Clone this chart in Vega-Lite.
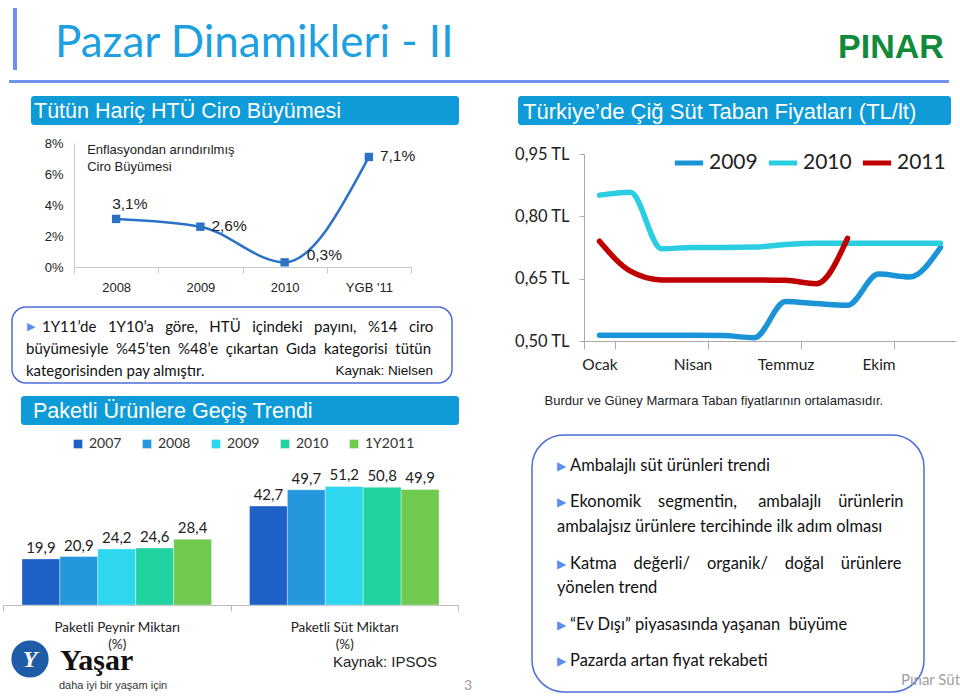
{
"$schema": "https://vega.github.io/schema/vega-lite/v6.json",
"background": "white",
"padding": {"left": 2, "top": 0, "right": 0, "bottom": 0},
"config": {"view": {"stroke": null}, "font": "Liberation Sans"},
"spacing": 10,
"resolve": {"scale": {"color": "independent"}, "legend": {"color": "independent"}},
"vconcat": [
{
 "width": 948, "height": 86,
 "data": {"values": [{"baslik": "Pazar Dinamikleri - II", "logo": "PINAR"}]},
 "layer": [
  {"mark": {"type": "rect", "color": "#6b8ef0"},
   "encoding": {
    "x": {"datum": 10, "type": "quantitative", "scale": {"domain": [0, 948], "nice": false, "zero": false}, "axis": null},
    "x2": {"datum": 14},
    "y": {"datum": 8, "type": "quantitative", "scale": {"domain": [0, 86], "nice": false, "zero": false, "reverse": true}, "axis": null},
    "y2": {"datum": 70}}},
  {"mark": {"type": "rect", "color": "#6f93ef"},
   "encoding": {
    "x": {"datum": 6, "type": "quantitative", "scale": {"domain": [0, 948], "nice": false, "zero": false}, "axis": null},
    "x2": {"datum": 946},
    "y": {"datum": 80, "type": "quantitative", "scale": {"domain": [0, 86], "nice": false, "zero": false, "reverse": true}, "axis": null},
    "y2": {"datum": 83}}},
  {"mark": {"type": "text", "align": "left", "baseline": "middle", "font": "Lato", "fontSize": 44, "color": "#1d9fe0"},
   "encoding": {
    "x": {"datum": 52, "type": "quantitative", "scale": {"domain": [0, 948], "nice": false, "zero": false}, "axis": null},
    "y": {"datum": 44, "type": "quantitative", "scale": {"domain": [0, 86], "nice": false, "zero": false, "reverse": true}, "axis": null},
    "text": {"field": "baslik"}}},
  {"mark": {"type": "text", "align": "center", "baseline": "middle", "font": "Liberation Sans", "fontWeight": "bold", "fontSize": 34, "color": "#128a3c"},
   "encoding": {
    "x": {"datum": 888, "type": "quantitative", "scale": {"domain": [0, 948], "nice": false, "zero": false}, "axis": null},
    "y": {"datum": 48, "type": "quantitative", "scale": {"domain": [0, 86], "nice": false, "zero": false, "reverse": true}, "axis": null},
    "text": {"field": "logo"}}}
 ]
},
{"spacing": 40,
 "resolve": {"scale": {"color": "independent"}, "legend": {"color": "independent"}},
 "hconcat": [
 {"spacing": 12,
  "resolve": {"scale": {"color": "independent"}, "legend": {"color": "independent"}},
  "vconcat": [
  {"spacing": 0, "hconcat": [
   {"width": 28, "height": 1, "data": {"values": []}, "mark": "point"},
   {
    "width": 428, "height": 29,
    "view": {"fill": "#0e9bd8", "stroke": null, "cornerRadius": 3},
    "data": {"values": [{"baslik": "Tütün Hariç HTÜ Ciro Büyümesi"}]},
    "mark": {"type": "text", "align": "left", "baseline": "middle", "dx": 3, "dy": 1, "font": "Liberation Sans", "fontSize": 21.5, "color": "white"},
    "encoding": {
     "x": {"datum": 0, "type": "quantitative", "scale": {"domain": [0, 1], "nice": false}, "axis": null},
     "y": {"datum": 0.5, "type": "quantitative", "scale": {"domain": [0, 1], "nice": false}, "axis": null},
     "text": {"field": "baslik"}}
   }
  ]},
  {"spacing": 0, "hconcat": [
   {"width": 38, "height": 1, "data": {"values": []}, "mark": "point"},
   {
    "width": 337, "height": 124,
    "data": {"values": [
     {"yil": "2008", "buyume": 3.1, "etiket": "3,1%"},
     {"yil": "2009", "buyume": 2.6, "etiket": "2,6%"},
     {"yil": "2010", "buyume": 0.3, "etiket": "0,3%"},
     {"yil": "YGB '11", "buyume": 7.1, "etiket": "7,1%"}
    ]},
    "encoding": {
     "x": {"field": "yil", "type": "ordinal", "sort": null, "scale": {"type": "band", "paddingInner": 0, "paddingOuter": 0}, "axis": {"title": null, "tickBand": "extent", "labelAngle": 0, "labelFont": "Liberation Sans", "labelFontSize": 13, "labelColor": "#222", "labelPadding": 8, "tickSize": 6, "tickColor": "#c8c8c8", "domainColor": "#c8c8c8"}},
     "y": {"field": "buyume", "type": "quantitative", "scale": {"domain": [0, 8], "nice": false}, "axis": {"title": null, "values": [0, 2, 4, 6, 8], "labelExpr": "datum.value + '%'", "grid": false, "ticks": false, "domainColor": "#c8c8c8", "labelFont": "Liberation Sans", "labelFontSize": 13, "labelColor": "#222", "labelPadding": 11, "minExtent": 33, "maxExtent": 33}}
    },
    "layer": [
     {"mark": {"type": "line", "interpolate": "monotone", "color": "#2a72c6", "strokeWidth": 2.5}},
     {"mark": {"type": "point", "shape": "square", "filled": true, "size": 70, "color": "#2a72c6", "opacity": 1}},
     {"transform": [{"filter": "datum.yil == '2008'"}],
      "mark": {"type": "text", "align": "left", "baseline": "middle", "dx": -4, "dy": -15, "font": "Liberation Sans", "fontSize": 15.5, "color": "#222"},
      "encoding": {"text": {"field": "etiket"}}},
     {"transform": [{"filter": "datum.yil == '2009' || datum.yil == \"YGB '11\""}],
      "mark": {"type": "text", "align": "left", "baseline": "middle", "dx": 11, "dy": -1, "font": "Liberation Sans", "fontSize": 15.5, "color": "#222"},
      "encoding": {"text": {"field": "etiket"}}},
     {"transform": [{"filter": "datum.yil == '2010'"}],
      "mark": {"type": "text", "align": "left", "baseline": "middle", "dx": 22, "dy": -7, "font": "Liberation Sans", "fontSize": 15.5, "color": "#222"},
      "encoding": {"text": {"field": "etiket"}}},
     {"transform": [{"filter": "datum.yil == '2008'"}],
      "mark": {"type": "text", "align": "left", "baseline": "top", "dx": -29, "font": "Liberation Sans", "fontSize": 13, "lineHeight": 17, "color": "#222", "lineBreak": "|", "text": "Enflasyondan arındırılmış|Ciro Büyümesi"},
      "encoding": {"y": {"datum": 7.95}}}
    ]
   }
  ]},
  {"spacing": 0, "hconcat": [
   {"width": 8, "height": 1, "data": {"values": []}, "mark": "point"},
   {
    "width": 440, "height": 76,
    "view": {"stroke": "#4c6fd6", "strokeWidth": 1.5, "cornerRadius": 14, "fill": "white"},
    "data": {"values": [
     {"satir": "1", "madde": true, "metin": "1Y11’de \u00a0\u00a01Y10’a \u00a0\u00a0göre, \u00a0\u00a0HTÜ \u00a0\u00a0içindeki \u00a0\u00a0payını, \u00a0\u00a0%14 \u00a0\u00a0ciro"},
     {"satir": "2", "madde": false, "metin": "büyümesiyle \u00a0%45’ten \u00a0%48’e \u00a0çıkartan \u00a0Gıda \u00a0kategorisi \u00a0tütün"},
     {"satir": "3", "madde": false, "metin": "kategorisinden pay almıştır."}
    ]},
    "encoding": {
     "x": {"datum": 0, "type": "quantitative", "scale": {"domain": [0, 1], "nice": false}, "axis": null},
     "y": {"field": "satir", "type": "ordinal", "scale": {"type": "point", "domain": ["1", "2", "3"], "padding": 0.69}, "axis": null}
    },
    "layer": [
     {"transform": [{"filter": "datum.madde"}], "mark": {"type": "text", "text": "▶", "align": "left", "baseline": "middle", "dx": 15, "dy": 4, "font": "DejaVu Sans", "fontSize": 11, "color": "#5a8ef2"}},
     {"transform": [{"filter": "datum.madde"}], "mark": {"type": "text", "align": "left", "baseline": "middle", "dx": 30, "dy": 4, "font": "Lato", "fontSize": 15, "color": "#111"}, "encoding": {"text": {"field": "metin"}}},
     {"transform": [{"filter": "!datum.madde"}], "mark": {"type": "text", "align": "left", "baseline": "middle", "dx": 14, "dy": 4, "font": "Lato", "fontSize": 15, "color": "#111"}, "encoding": {"text": {"field": "metin"}}},
     {"transform": [{"filter": "datum.satir == '3'"}], "mark": {"type": "text", "align": "right", "baseline": "middle", "dx": -19, "dy": 4, "font": "Liberation Sans", "fontSize": 13.5, "color": "#111"},
      "encoding": {"x": {"datum": 1, "type": "quantitative", "scale": {"domain": [0, 1], "nice": false}, "axis": null}, "text": {"value": "Kaynak: Nielsen"}}}
    ]
   }
  ]},
  {"spacing": 0, "hconcat": [
   {"width": 18, "height": 1, "data": {"values": []}, "mark": "point"},
   {
    "width": 438, "height": 29,
    "view": {"fill": "#0e9bd8", "stroke": null, "cornerRadius": 3},
    "data": {"values": [{"baslik": "Paketli Ürünlere Geçiş Trendi"}]},
    "mark": {"type": "text", "align": "left", "baseline": "middle", "dx": 12, "dy": 1, "font": "Liberation Sans", "fontSize": 21.5, "color": "white"},
    "encoding": {
     "x": {"datum": 0, "type": "quantitative", "scale": {"domain": [0, 1], "nice": false}, "axis": null},
     "y": {"datum": 0.5, "type": "quantitative", "scale": {"domain": [0, 1], "nice": false}, "axis": null},
     "text": {"field": "baslik"}}
   }
  ]},
  {
   "width": 455, "height": 139,
   "layer": [
    {
     "data": {"values": [
      {"urun": "Paketli Peynir Miktarı|(%)", "yil": "2007", "pay": 19.9, "etiket": "19,9"},
      {"urun": "Paketli Peynir Miktarı|(%)", "yil": "2008", "pay": 20.9, "etiket": "20,9"},
      {"urun": "Paketli Peynir Miktarı|(%)", "yil": "2009", "pay": 24.2, "etiket": "24,2"},
      {"urun": "Paketli Peynir Miktarı|(%)", "yil": "2010", "pay": 24.6, "etiket": "24,6"},
      {"urun": "Paketli Peynir Miktarı|(%)", "yil": "1Y2011", "pay": 28.4, "etiket": "28,4"},
      {"urun": "Paketli Süt Miktarı|(%)", "yil": "2007", "pay": 42.7, "etiket": "42,7"},
      {"urun": "Paketli Süt Miktarı|(%)", "yil": "2008", "pay": 49.7, "etiket": "49,7"},
      {"urun": "Paketli Süt Miktarı|(%)", "yil": "2009", "pay": 51.2, "etiket": "51,2"},
      {"urun": "Paketli Süt Miktarı|(%)", "yil": "2010", "pay": 50.8, "etiket": "50,8"},
      {"urun": "Paketli Süt Miktarı|(%)", "yil": "1Y2011", "pay": 49.9, "etiket": "49,9"}
     ]},
     "encoding": {
      "x": {"field": "urun", "type": "nominal", "sort": null, "scale": {"paddingInner": 0, "paddingOuter": 0}, "axis": {"title": null, "labelExpr": "split(datum.label, '|')", "labelAngle": 0, "tickBand": "extent", "tickSize": 6, "tickColor": "#bbbbbb", "domainColor": "#bbbbbb", "labelFont": "Lato", "labelFontSize": 13.5, "labelColor": "#222", "labelPadding": 9, "labelLineHeight": 17}},
      "xOffset": {"field": "yil", "type": "nominal", "sort": null, "scale": {"paddingInner": 0, "paddingOuter": 0.5}},
      "y": {"field": "pay", "type": "quantitative", "scale": {"domain": [0, 60], "nice": false}, "axis": null}
     },
     "layer": [
      {"mark": {"type": "bar", "stroke": "#ffffff", "strokeWidth": 0.6, "strokeOpacity": 0.6},
       "encoding": {"color": {"field": "yil", "type": "nominal", "sort": null,
        "scale": {"domain": ["2007", "2008", "2009", "2010", "1Y2011"], "range": ["#1d60c6", "#2497dd", "#2fd6ef", "#1fd2a0", "#6fca4f"]},
        "legend": {"orient": "none", "legendX": 68, "legendY": -29, "direction": "horizontal", "title": null, "symbolType": "square", "symbolSize": 75, "symbolStrokeWidth": 0, "labelFont": "Lato", "labelFontSize": 14, "labelColor": "#333", "columnPadding": 18, "labelOffset": 4}}}},
      {"mark": {"type": "text", "baseline": "bottom", "dy": -3, "font": "Lato", "fontSize": 15, "color": "#222"}, "encoding": {"text": {"field": "etiket"}}}
     ]
    },
    {
     "data": {"values": [{"kaynak": "Kaynak: IPSOS", "marka": "Yaşar", "slogan": "daha iyi bir yaşam için", "sayfa": "3"}]},
     "layer": [
      {"mark": {"type": "point", "shape": "circle", "filled": true, "size": 1500, "color": "#1f5ca8", "opacity": 1, "stroke": "#ffffff", "strokeWidth": 1.5},
       "encoding": {"x": {"datum": 27, "type": "quantitative", "scale": {"domain": [0, 455], "nice": false, "zero": false}, "axis": null},
                    "y": {"datum": 193, "type": "quantitative", "scale": {"domain": [0, 139], "nice": false, "zero": false, "reverse": true}, "axis": null}}},
      {"mark": {"type": "text", "align": "center", "baseline": "middle", "font": "Liberation Serif", "fontWeight": "bold", "fontStyle": "italic", "fontSize": 24, "color": "white"},
       "encoding": {"x": {"datum": 27, "type": "quantitative", "scale": {"domain": [0, 455], "nice": false, "zero": false}, "axis": null},
                    "y": {"datum": 194, "type": "quantitative", "scale": {"domain": [0, 139], "nice": false, "zero": false, "reverse": true}, "axis": null},
                    "text": {"value": "Y"}}},
      {"mark": {"type": "text", "align": "left", "baseline": "middle", "font": "Liberation Serif", "fontWeight": "bold", "fontSize": 30, "color": "#111"},
       "encoding": {"x": {"datum": 57, "type": "quantitative", "scale": {"domain": [0, 455], "nice": false, "zero": false}, "axis": null},
                    "y": {"datum": 195, "type": "quantitative", "scale": {"domain": [0, 139], "nice": false, "zero": false, "reverse": true}, "axis": null},
                    "text": {"field": "marka"}}},
      {"mark": {"type": "text", "align": "left", "baseline": "middle", "font": "Liberation Sans", "fontSize": 11, "color": "#333"},
       "encoding": {"x": {"datum": 56, "type": "quantitative", "scale": {"domain": [0, 455], "nice": false, "zero": false}, "axis": null},
                    "y": {"datum": 220, "type": "quantitative", "scale": {"domain": [0, 139], "nice": false, "zero": false, "reverse": true}, "axis": null},
                    "text": {"field": "slogan"}}},
      {"mark": {"type": "text", "align": "center", "baseline": "middle", "font": "Liberation Sans", "fontSize": 15, "color": "#222"},
       "encoding": {"x": {"datum": 382, "type": "quantitative", "scale": {"domain": [0, 455], "nice": false, "zero": false}, "axis": null},
                    "y": {"datum": 196, "type": "quantitative", "scale": {"domain": [0, 139], "nice": false, "zero": false, "reverse": true}, "axis": null},
                    "text": {"field": "kaynak"}}},
      {"mark": {"type": "text", "align": "center", "baseline": "middle", "font": "Lato", "fontSize": 14, "color": "#999"},
       "encoding": {"x": {"datum": 465, "type": "quantitative", "scale": {"domain": [0, 455], "nice": false, "zero": false}, "axis": null},
                    "y": {"datum": 220, "type": "quantitative", "scale": {"domain": [0, 139], "nice": false, "zero": false, "reverse": true}, "axis": null},
                    "text": {"field": "sayfa"}}}
     ]
    }
   ],
   "resolve": {"scale": {"x": "independent", "y": "independent"}}
  }
 ]},
 {"spacing": 12,
  "resolve": {"scale": {"color": "independent"}, "legend": {"color": "independent"}},
  "vconcat": [
  {"spacing": 0, "hconcat": [
   {"width": 5, "height": 1, "data": {"values": []}, "mark": "point"},
   {
    "width": 433, "height": 29,
    "view": {"fill": "#0e9bd8", "stroke": null, "cornerRadius": 3},
    "data": {"values": [{"baslik": "Türkiye’de Çiğ Süt Taban Fiyatları (TL/lt)"}]},
    "mark": {"type": "text", "align": "left", "baseline": "middle", "dx": 5, "dy": 1, "font": "Liberation Sans", "fontSize": 22, "color": "white"},
    "encoding": {
     "x": {"datum": 0, "type": "quantitative", "scale": {"domain": [0, 1], "nice": false}, "axis": {"orient": "bottom", "title": null, "labels": false, "ticks": false, "domain": false, "grid": false, "minExtent": 9, "maxExtent": 9}},
     "y": {"datum": 0.5, "type": "quantitative", "scale": {"domain": [0, 1], "nice": false}, "axis": null},
     "text": {"field": "baslik"}}
   }
  ]},
  {"spacing": 0,
   "resolve": {"scale": {"color": "independent"}, "legend": {"color": "independent"}},
   "hconcat": [
   {"width": 1, "height": 1, "data": {"values": []}, "mark": "point"},
   {
    "width": 372, "height": 187,
    "data": {"values": [
     {"ay": "Ocak", "yil": "2009", "fiyat": 0.514}, {"ay": "Şubat", "yil": "2009", "fiyat": 0.514}, {"ay": "Mart", "yil": "2009", "fiyat": 0.514},
     {"ay": "Nisan", "yil": "2009", "fiyat": 0.514}, {"ay": "Mayıs", "yil": "2009", "fiyat": 0.513}, {"ay": "Haziran", "yil": "2009", "fiyat": 0.508},
     {"ay": "Temmuz", "yil": "2009", "fiyat": 0.595}, {"ay": "Ağustos", "yil": "2009", "fiyat": 0.590}, {"ay": "Eylül", "yil": "2009", "fiyat": 0.586},
     {"ay": "Ekim", "yil": "2009", "fiyat": 0.661}, {"ay": "Kasım", "yil": "2009", "fiyat": 0.654}, {"ay": "Aralık", "yil": "2009", "fiyat": 0.725},
     {"ay": "Ocak", "yil": "2010", "fiyat": 0.851}, {"ay": "Şubat", "yil": "2010", "fiyat": 0.858}, {"ay": "Mart", "yil": "2010", "fiyat": 0.722},
     {"ay": "Nisan", "yil": "2010", "fiyat": 0.725}, {"ay": "Mayıs", "yil": "2010", "fiyat": 0.725}, {"ay": "Haziran", "yil": "2010", "fiyat": 0.726},
     {"ay": "Temmuz", "yil": "2010", "fiyat": 0.732}, {"ay": "Ağustos", "yil": "2010", "fiyat": 0.735}, {"ay": "Eylül", "yil": "2010", "fiyat": 0.735},
     {"ay": "Ekim", "yil": "2010", "fiyat": 0.735}, {"ay": "Kasım", "yil": "2010", "fiyat": 0.735}, {"ay": "Aralık", "yil": "2010", "fiyat": 0.735},
     {"ay": "Ocak", "yil": "2011", "fiyat": 0.740}, {"ay": "Şubat", "yil": "2011", "fiyat": 0.668}, {"ay": "Mart", "yil": "2011", "fiyat": 0.647},
     {"ay": "Nisan", "yil": "2011", "fiyat": 0.647}, {"ay": "Mayıs", "yil": "2011", "fiyat": 0.647}, {"ay": "Haziran", "yil": "2011", "fiyat": 0.647},
     {"ay": "Temmuz", "yil": "2011", "fiyat": 0.646}, {"ay": "Ağustos", "yil": "2011", "fiyat": 0.638}, {"ay": "Eylül", "yil": "2011", "fiyat": 0.747}
    ]},
    "mark": {"type": "line", "interpolate": "monotone", "strokeWidth": 5.5, "strokeCap": "round", "strokeJoin": "round"},
    "encoding": {
     "x": {"field": "ay", "type": "ordinal", "scale": {"type": "band", "domain": ["Ocak", "Şubat", "Mart", "Nisan", "Mayıs", "Haziran", "Temmuz", "Ağustos", "Eylül", "Ekim", "Kasım", "Aralık"], "paddingInner": 0, "paddingOuter": 0},
      "axis": {"values": ["Ocak", "Nisan", "Temmuz", "Ekim"], "tickBand": "extent", "labelAngle": 0, "tickSize": 8, "tickColor": "#aaaaaa", "domainColor": "#aaaaaa", "labelFont": "Lato", "labelFontSize": 15.5, "labelColor": "#222", "labelPadding": 8,
       "title": "Burdur ve Güney Marmara Taban fiyatlarının ortalamasıdır.", "titleFont": "Liberation Sans", "titleFontSize": 13, "titleFontWeight": "normal", "titleColor": "#222", "titleX": -40, "titleAlign": "left", "titlePadding": 22}},
     "y": {"field": "fiyat", "type": "quantitative", "scale": {"domain": [0.5, 0.95], "nice": false, "zero": false},
      "axis": {"title": null, "values": [0.5, 0.65, 0.8, 0.95], "labelExpr": "replace(format(datum.value, '.2f'), '.', ',') + ' TL'", "grid": false, "tickSize": 5, "tickColor": "#aaaaaa", "domainColor": "#aaaaaa", "labelFont": "Lato", "labelFontSize": 16.5, "labelColor": "#222", "labelPadding": 10, "minExtent": 69, "maxExtent": 69}},
     "color": {"field": "yil", "type": "nominal", "scale": {"domain": ["2009", "2010", "2011"], "range": ["#1b93d7", "#2bcde0", "#c00000"]},
      "legend": {"orient": "none", "legendX": 88, "legendY": -8, "direction": "horizontal", "title": null, "symbolType": "stroke", "symbolSize": 800, "symbolStrokeWidth": 5, "labelFont": "Lato", "labelFontSize": 21, "labelColor": "#222", "columnPadding": 0, "labelOffset": 3}}
    }
   }
  ]},
  {"spacing": 0, "hconcat": [
   {"width": 18, "height": 1, "data": {"values": []}, "mark": "point"},
   {
    "width": 392, "height": 257,
    "view": {"stroke": "#4c6fd6", "strokeWidth": 1.5, "cornerRadius": 32, "fill": "white"},
    "data": {"values": [
     {"satir": "0", "madde": true, "metin": "\u00a0Ambalajlı süt ürünleri trendi"},
     {"satir": "3", "madde": true, "metin": "Ekonomik \u00a0\u00a0 segmentin, \u00a0\u00a0\u00a0 ambalajlı \u00a0\u00a0 ürünlerin"},
     {"satir": "5", "madde": false, "metin": "ambalajsız ürünlere tercihinde ilk adım olması"},
     {"satir": "8", "madde": true, "metin": "Katma \u00a0\u00a0 değerli/ \u00a0\u00a0 organik/ \u00a0\u00a0 doğal \u00a0\u00a0 ürünlere"},
     {"satir": "10", "madde": false, "metin": "yönelen trend"},
     {"satir": "13", "madde": true, "metin": "“Ev Dışı” piyasasında yaşanan \u00a0büyüme"},
     {"satir": "16", "madde": true, "metin": "Pazarda artan fiyat rekabeti"}
    ]},
    "encoding": {
     "x": {"datum": 0, "type": "quantitative", "scale": {"domain": [0, 1], "nice": false}, "axis": {"orient": "top", "title": null, "labels": false, "ticks": false, "domain": false, "grid": false, "minExtent": 14, "maxExtent": 14}},
     "y": {"field": "satir", "type": "ordinal", "scale": {"type": "point", "domain": ["b1", "b2", "0", "1", "2", "3", "4", "5", "6", "7", "8", "9", "10", "11", "12", "13", "14", "15", "16", "e1", "e2"], "padding": 0.5}, "axis": null}
    },
    "layer": [
     {"transform": [{"filter": "datum.madde"}], "mark": {"type": "text", "text": "▶", "align": "left", "baseline": "middle", "dx": 25, "font": "DejaVu Sans", "fontSize": 12, "color": "#5a8ef2"}},
     {"transform": [{"filter": "datum.madde"}], "mark": {"type": "text", "align": "left", "baseline": "middle", "dx": 38, "font": "Lato", "fontSize": 16.5, "color": "#111"}, "encoding": {"text": {"field": "metin"}}},
     {"transform": [{"filter": "!datum.madde"}], "mark": {"type": "text", "align": "left", "baseline": "middle", "dx": 25, "font": "Lato", "fontSize": 16.5, "color": "#111"}, "encoding": {"text": {"field": "metin"}}},
     {"transform": [{"filter": "datum.satir == '16'"}], "mark": {"type": "text", "align": "left", "baseline": "middle", "dx": -23, "dy": 19, "font": "Lato", "fontSize": 15, "color": "#a0a0a0"},
      "encoding": {"x": {"datum": 1, "type": "quantitative", "scale": {"domain": [0, 1], "nice": false}, "axis": {"orient": "top", "title": null, "labels": false, "ticks": false, "domain": false, "grid": false, "minExtent": 14, "maxExtent": 14}}, "text": {"value": "Pınar Süt"}}}
    ]
   }
  ]}
 ]}
]}
]
}
